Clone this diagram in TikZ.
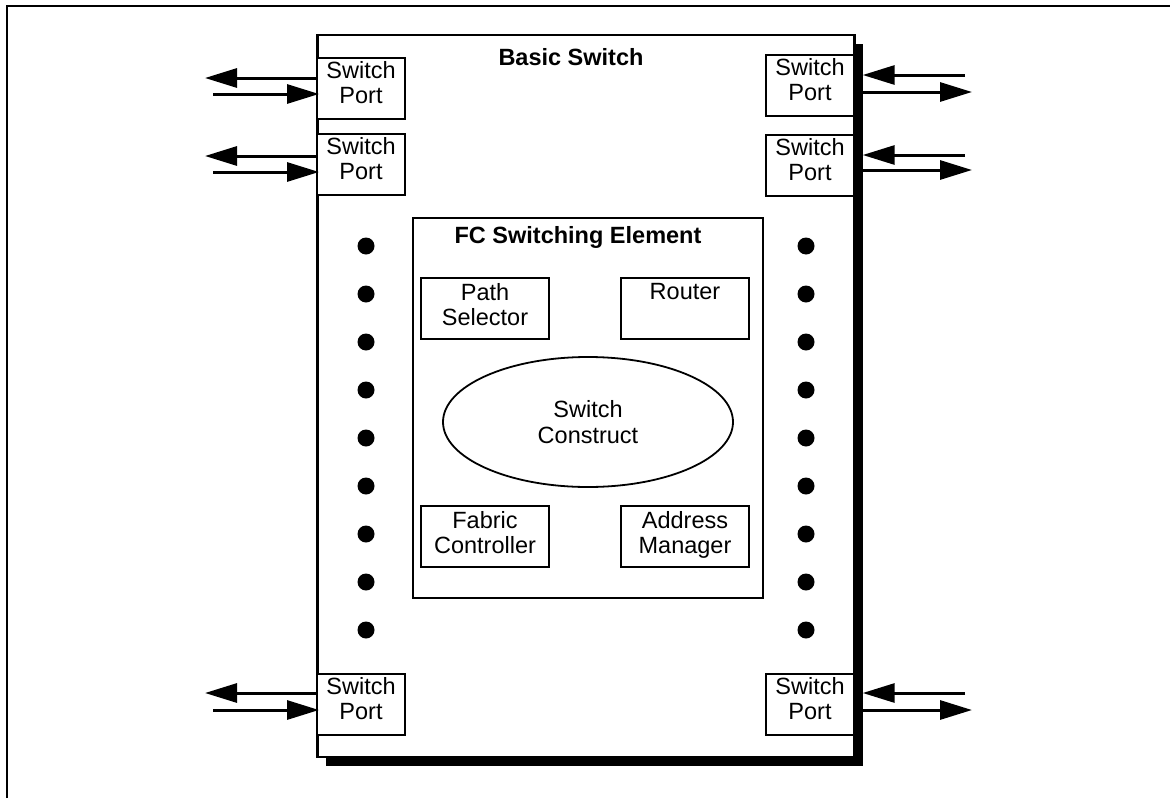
\documentclass[tikz,border=0pt]{standalone}
\usepackage{fontspec}
\setmainfont{Liberation Sans}
\usetikzlibrary{arrows.meta,shapes.geometric}

\begin{document}
\begin{tikzpicture}[x=1pt,y=-1pt,
  frame/.style={line width=2.6pt},
  unit/.style={draw,line width=2.2pt,fill=white,minimum width=537pt,minimum height=722pt,inner sep=0pt},
  shade/.style={fill=black,minimum width=537pt,minimum height=722pt,inner sep=0pt},
  port/.style={draw,line width=2pt,fill=white,minimum width=88pt,minimum height=61pt,inner sep=0pt},
  block/.style={draw,line width=1.8pt,minimum width=128pt,minimum height=61pt,inner sep=0pt},
  element/.style={draw,line width=1.8pt,minimum width=350pt,minimum height=380pt,inner sep=0pt},
  construct/.style={draw,ellipse,line width=1.8pt,minimum width=290pt,minimum height=130pt,inner sep=0pt},
  txt/.style={font=\fontsize{23.5}{25.5}\selectfont,align=center,inner sep=0pt},
  title/.style={font=\bfseries\fontsize{23.5}{26}\selectfont,inner sep=0pt},
  link/.style={line width=3pt,-{Triangle[length=32pt,width=19pt]}},
  dot/.style={circle,fill=black,minimum size=17pt,inner sep=0pt},
  portlabel/.style={label={[txt,anchor=north,yshift=-4.5pt]north:Switch\\Port}},
  blocklabel/.style={label={[txt,anchor=north,yshift=-6pt]north:#1}}
]
\useasboundingbox (0,0) rectangle (1170,798);

% page frame (top and left rules only)
\draw[frame] (7,798) -- (7,6) -- (1170,6);

% basic switch with its solid drop shadow
\node[shade] (shadow) at (594,405) {};
\node[unit] (bs) at (586,396) {};
\node[title,anchor=base] (bstitle) at (571,65) {Basic Switch};

% switch ports
\node[port,portlabel] (pl1) at (361,88) {};
\node[port,portlabel] (pl2) at (361,164) {};
\node[port,portlabel] (pl3) at (361,704) {};
\node[port,portlabel] (pr1) at (810,85) {};
\node[port,portlabel] (pr2) at (810,165) {};
\node[port,portlabel] (pr3) at (810,704) {};

% free ends of the port links
\coordinate (lo1) at (205,78);  \coordinate (li1) at (213,94);
\coordinate (lo2) at (205,156); \coordinate (li2) at (213,172);
\coordinate (lo3) at (205,693); \coordinate (li3) at (213,710);
\coordinate (ri1) at (965,75);  \coordinate (ro1) at (972,92);
\coordinate (ri2) at (965,155); \coordinate (ro2) at (972,170);
\coordinate (ri3) at (965,693); \coordinate (ro3) at (972,710);

% left side links
\foreach \i in {1,2,3} {
  \draw[link] (lo\i -| pl\i.west) -- (lo\i);
  \draw[link,shorten >=-3pt] (li\i) -- (li\i -| pl\i.west);
}
% right side links
\foreach \i in {1,2,3} {
  \draw[link] (ri\i) -- (ri\i -| shadow.east);
  \draw[link] (ro\i -| shadow.east) -- (ro\i);
}

% ellipsis dots between ports
\foreach \k in {0,...,8} {
  \node[dot] (dl\k) at (366,246+48*\k) {};
  \node[dot] (dr\k) at (806,246+48*\k) {};
}

% FC switching element
\node[element] (fc) at (588,408) {};
\node[title,anchor=base] (fctitle) at (578,243) {FC Switching Element};
\node[block,blocklabel={Path\\Selector}] (ps) at (485,308.5) {};
\node[block,blocklabel={Router}] (rt) at (685,308.5) {};
\node[construct,txt] (sc) at (588,422) {Switch\\Construct};
\node[block,blocklabel={Fabric\\Controller}] (fcc) at (485,536.5) {};
\node[block,blocklabel={Address\\Manager}] (am) at (685,536.5) {};
\end{tikzpicture}
\end{document}
